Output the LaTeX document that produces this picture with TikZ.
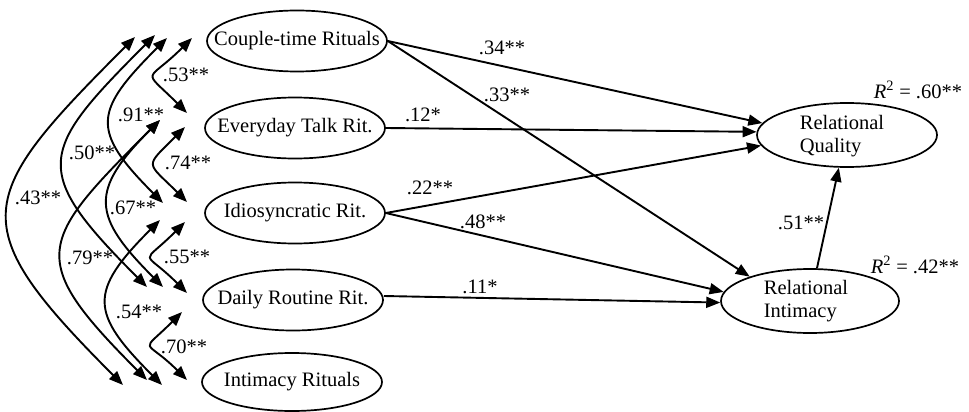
\documentclass[tikz,border=0pt]{standalone}
\usepackage{fontspec}
\setmainfont{Liberation Serif}
\usetikzlibrary{arrows.meta,shapes.geometric}
\begin{document}
\begin{tikzpicture}[x=1pt,y=-1pt,
  font=\fontsize{20.5}{23.5}\selectfont,
  ov/.style={ellipse,draw,line width=1.7pt,minimum width=180pt,minimum height=61pt,inner sep=0pt},
  txt/.style={inner sep=0pt,align=left},
  lab/.style={inner sep=0pt},
  pth/.style={line width=1.9pt,-{Triangle[length=14pt,width=11pt]}},
  cov/.style={line width=1.9pt,{Triangle[length=14pt,width=11pt]}-{Triangle[length=14pt,width=11pt]}}]
\useasboundingbox (0,0) rectangle (969,412);

% exogenous variables
\node[ov] (c1) at (297,41) {};
\node[txt] (c1t) at (c1) {Couple-time Rituals};
\node[ov] (c2) at (295,128) {};
\node[txt] (c2t) at (c2) {Everyday Talk Rit.};
\node[ov] (c3) at (295,213) {};
\node[txt] (c3t) at (c3) {Idiosyncratic Rit.};
\node[ov] (c4) at (293,300) {};
\node[txt] (c4t) at (c4) {Daily Routine Rit.};
\node[ov,minimum height=58pt] (c5) at (292,382) {};
\node[txt] (c5t) at (c5) {Intimacy Rituals};

% endogenous variables
\node[ov,minimum height=64pt] (rq) at (847,135) {};
\node[txt] (rqt) at (842,136) {Relational\\Quality};
\node[ov,minimum width=178pt,minimum height=64pt] (ri) at (810,301) {};
\node[txt] (rit) at (806,301) {Relational\\Intimacy};

% paths
\draw[pth] (c1.east) -- (rq.172);
\draw[pth] (c1.east) -- (ri.158);
\draw[pth] (c2.east) -- (rq.178);
\draw[pth] (c3.east) -- (rq.187);
\draw[pth] (c3.east) -- (ri.174);
\draw[pth] ([yshift=4pt]c4.east) -- (ri.181);
\draw[pth] (ri.78) -- (rq.256);

% path labels
\node[lab] (p34) at (502,48) {.34**};
\node[lab] (p33) at (507,95) {.33**};
\node[lab] (p12) at (423,115) {.12*};
\node[lab] (p22) at (430,188) {.22**};
\node[lab] (p48) at (483,222) {.48**};
\node[lab] (p11) at (480,287) {.11*};
\node[lab] (p51) at (801,223) {.51**};
\node[lab] (r60) at (918,90) {\textit{R}\textsuperscript{2} = .60**};
\node[lab] (r42) at (915,265) {\textit{R}\textsuperscript{2} = .42**};

% covariance end points
\coordinate (a12) at (192,38);  \coordinate (b12) at (187,113);
\coordinate (a23) at (185,127); \coordinate (b23) at (187,202);
\coordinate (a34) at (185,222); \coordinate (b34) at (187,293);
\coordinate (a45) at (182,312); \coordinate (b45) at (187,380);
\coordinate (a13) at (167,38);  \coordinate (b13) at (163,203);
\coordinate (a24) at (160,120); \coordinate (b24) at (163,287);
\coordinate (a35) at (160,220); \coordinate (b35) at (162,385);
\coordinate (a14) at (155,35);  \coordinate (b14) at (147,287);
\coordinate (a25) at (160,120); \coordinate (b25) at (147,380);
\coordinate (a15) at (135,37);  \coordinate (b15) at (123,385);

% covariances
\draw[cov] (a12) .. controls (146,84) and (141,67) .. (b12);
\draw[cov] (a23) .. controls (144,168) and (146,161) .. (b23);
\draw[cov] (a34) .. controls (140,267) and (142,248) .. (b34);
\draw[cov] (a45) .. controls (139,355) and (144,337) .. (b45);
\draw[cov] (a13) .. controls (94,111) and (90,130) .. (b13);
\draw[cov] (a24) .. controls (89,191) and (92,216) .. (b24);
\draw[cov] (a35) .. controls (88,292) and (90,313) .. (b35);
\draw[cov] (a14) .. controls (38,152) and (30,170) .. (b14);
\draw[cov] (a25) .. controls (38,242) and (25,258) .. (b25);
\draw[cov] (a15) .. controls (-26,198) and (-38,224) .. (b15);

% covariance labels
\node[lab] (k53) at (186,75) {.53**};
\node[lab] (k74) at (188,163) {.74**};
\node[lab] (k55) at (187,257) {.55**};
\node[lab] (k70) at (184,347) {.70**};
\node[lab] (k91) at (141,115) {.91**};
\node[lab] (k67) at (133,208) {.67**};
\node[lab] (k54) at (139,312) {.54**};
\node[lab] (k50) at (92,153) {.50**};
\node[lab] (k79) at (90,258) {.79**};
\node[lab] (k43) at (38,198) {.43**};
\end{tikzpicture}
\end{document}
